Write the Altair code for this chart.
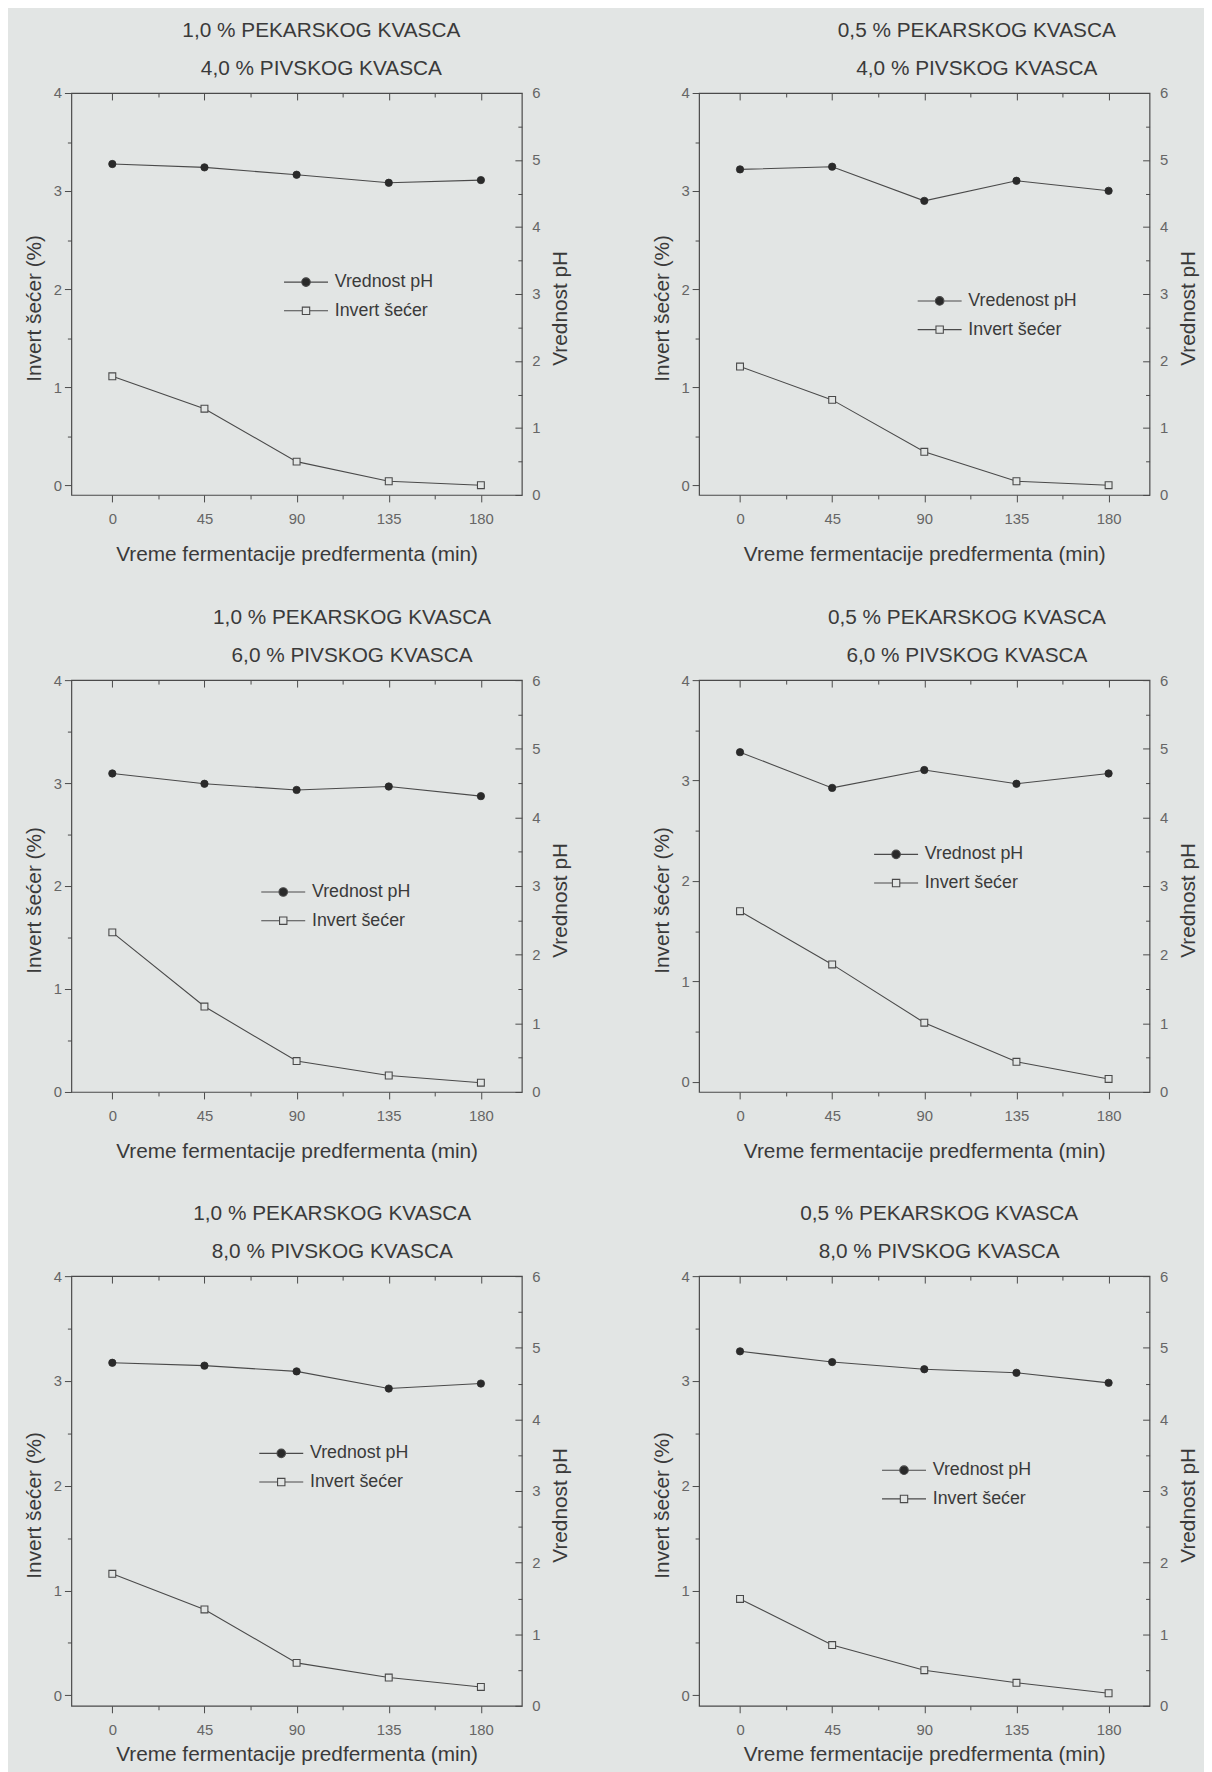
import altair as alt
import pandas as pd

# ---------------- data ----------------
minutes = [0, 45, 90, 135, 180]

title_line1 = [
    "1,0 % PEKARSKOG KVASCA", "0,5 % PEKARSKOG KVASCA",
    "1,0 % PEKARSKOG KVASCA", "0,5 % PEKARSKOG KVASCA",
    "1,0 % PEKARSKOG KVASCA", "0,5 % PEKARSKOG KVASCA",
]
title_line2 = [
    "4,0 % PIVSKOG KVASCA", "4,0 % PIVSKOG KVASCA",
    "6,0 % PIVSKOG KVASCA", "6,0 % PIVSKOG KVASCA",
    "8,0 % PIVSKOG KVASCA", "8,0 % PIVSKOG KVASCA",
]

ph_1 = [4.94, 4.89, 4.78, 4.66, 4.70]
ph_2 = [4.86, 4.90, 4.39, 4.69, 4.54]
ph_3 = [4.64, 4.49, 4.40, 4.45, 4.31]
ph_4 = [4.95, 4.43, 4.69, 4.49, 4.64]
ph_5 = [4.79, 4.75, 4.67, 4.43, 4.50]
ph_6 = [4.95, 4.80, 4.70, 4.65, 4.51]

inv_1 = [1.11, 0.78, 0.24, 0.04, 0.00]
inv_2 = [1.21, 0.87, 0.34, 0.04, 0.00]
inv_3 = [1.55, 0.83, 0.30, 0.16, 0.09]
inv_4 = [1.70, 1.17, 0.59, 0.20, 0.03]
inv_5 = [1.16, 0.82, 0.31, 0.17, 0.08]
inv_6 = [0.92, 0.48, 0.24, 0.12, 0.02]

ph_legend_labels = ["Vrednost pH", "Vredenost pH", "Vrednost pH",
                    "Vrednost pH", "Vrednost pH", "Vrednost pH"]
inv_legend_label = "Invert šećer"

left_axis_min = [-0.1, -0.1, 0.0, -0.1, -0.1, -0.1]

x_title = "Vreme fermentacije predfermenta (min)"
y_left_title = "Invert šećer (%)"
y_right_title = "Vrednost pH"

x_major = [0, 45, 90, 135, 180]
x_minor = [22.5, 67.5, 112.5, 157.5]
yl_major = [0, 1, 2, 3, 4]
yl_minor = [0.5, 1.5, 2.5, 3.5]
yr_major = [0, 1, 2, 3, 4, 5, 6]
yr_minor = [0.5, 1.5, 2.5, 3.5, 4.5, 5.5]

ph_series = [ph_1, ph_2, ph_3, ph_4, ph_5, ph_6]
inv_series = [inv_1, inv_2, inv_3, inv_4, inv_5, inv_6]

# ---------------- style ----------------
BG = "#e2e5e4"
LINE = "#4a4a4a"
DOT = "#2a2a2a"
TEXT = "#3a3a3a"
TICKC = "#666666"
FONT = "Liberation Sans"

legend_pos = [(224, 178), (230, 197), (201, 201), (186, 163), (199, 166), (194, 183)]
title_dx = [25, 53, 56, 43, 36, 15]
row_heights = [406, 416, 434]
x_title_pad = [17, 17, 17, 17, 6, 6]
W = 455

CIRCLE_PATH = ("M-1.85,0H-0.36M0.36,0H1.85"
               "M-0.36,0A0.36,0.36 0 1,0 0.36,0A0.36,0.36 0 1,0 -0.36,0Z")
SQUARE_PATH = "M-1.85,0H-0.31M0.31,0H1.85M-0.31,-0.31H0.31V0.31H-0.31Z"

LAB = dict(labelFontSize=15, labelColor=TICKC, labelFont=FONT, labelOverlap=False)
TTL = dict(titleFontSize=21, titleFont=FONT, titleFontWeight="normal", titleColor=TEXT)
COMMON = dict(domain=False, grid=False, tickColor=LINE, tickWidth=1)


def panel(i, height):
    df = pd.DataFrame({"min": minutes, "ph": ph_series[i], "inv": inv_series[i]})
    xscale = alt.Scale(domain=[-20, 200], nice=False, zero=False)
    yl = alt.Scale(domain=[left_axis_min[i], 4], nice=False, zero=False)
    yr = alt.Scale(domain=[0, 6], nice=False, zero=False)
    ty = height / 2 + 14

    ax_bottom = alt.Axis(orient="bottom", values=x_major, tickSize=7, format="d",
                         labelPadding=10, title=x_title, titlePadding=x_title_pad[i],
                         **LAB, **TTL, **COMMON)
    ax_bottom_minor = alt.Axis(orient="bottom", values=x_minor, tickSize=4,
                               labels=False, title=None, **COMMON)
    ax_top = alt.Axis(orient="top", values=x_major, tickSize=7, offset=-7,
                      labels=False, title=None, **COMMON)
    ax_top_minor = alt.Axis(orient="top", values=x_minor, tickSize=4, offset=-4,
                            labels=False, title=None, **COMMON)
    ax_left = alt.Axis(orient="left", values=yl_major, tickSize=7, format="d",
                       labelPadding=3, title=y_left_title, titlePadding=9, titleY=ty,
                       **LAB, **TTL, **COMMON)
    ax_left_minor = alt.Axis(orient="left", values=yl_minor, tickSize=4,
                             labels=False, title=None, **COMMON)
    ax_right = alt.Axis(orient="right", values=yr_major, tickSize=7, offset=-7, format="d",
                        labelPadding=10, title=y_right_title, titlePadding=10, titleY=ty,
                        titleAngle=270, titleBaseline="top", **LAB, **TTL, **COMMON)
    ax_right_minor = alt.Axis(orient="right", values=yr_minor, tickSize=4, offset=-4,
                              labels=False, title=None, **COMMON)

    def X(axis):
        return alt.X("min:Q", scale=xscale, axis=axis)

    inv_line = alt.Chart(df).mark_line(color=LINE, strokeWidth=1.1).encode(
        x=X(ax_bottom), y=alt.Y("inv:Q", scale=yl, axis=ax_left))
    left_minor = alt.Chart(df).mark_line(opacity=0).encode(
        x=X(ax_bottom_minor), y=alt.Y("inv:Q", scale=yl, axis=ax_left_minor))
    inv_pts = alt.Chart(df).mark_square(
        size=48, fill=BG, stroke=LINE, strokeWidth=1.1, opacity=1).encode(
        x=X(None), y=alt.Y("inv:Q", scale=yl, axis=None))
    ph_line = alt.Chart(df).mark_line(color=LINE, strokeWidth=1.1).encode(
        x=X(ax_top), y=alt.Y("ph:Q", scale=yr, axis=ax_right))
    right_minor = alt.Chart(df).mark_line(opacity=0).encode(
        x=X(ax_top_minor), y=alt.Y("ph:Q", scale=yr, axis=ax_right_minor))
    ph_pts = alt.Chart(df).mark_circle(
        size=55, fill=DOT, stroke=DOT, strokeWidth=0.8, opacity=1).encode(
        x=X(None), y=alt.Y("ph:Q", scale=yr, axis=None))

    names = [ph_legend_labels[i], inv_legend_label]
    lx, ly = legend_pos[i]
    leg = alt.Legend(
        orient="none", legendX=lx, legendY=ly, title=None, padding=0,
        symbolSize=576, symbolStrokeWidth=1.1, symbolOpacity=1,
        labelFontSize=18, labelFont=FONT, labelColor=TEXT, labelOffset=16,
        rowPadding=7, labelLimit=300)
    leg_df = pd.DataFrame({"series": names})
    legend_layer = alt.Chart(leg_df).mark_point(filled=True, opacity=0).encode(
        shape=alt.Shape("series:N", scale=alt.Scale(domain=names, range=[CIRCLE_PATH, SQUARE_PATH]), legend=leg),
        fill=alt.Fill("series:N", scale=alt.Scale(domain=names, range=[DOT, BG]), legend=leg),
        stroke=alt.Stroke("series:N", scale=alt.Scale(domain=names, range=[LINE, LINE]), legend=leg),
    )

    ch = alt.layer(inv_line, left_minor, inv_pts, ph_line, right_minor, ph_pts, legend_layer
                   ).resolve_scale(y="independent").resolve_axis(x="independent").properties(
        width=W, height=height,
        title=alt.TitleParams(
            text=[title_line1[i], title_line2[i]], fontSize=21, font=FONT,
            fontWeight="normal", color=TEXT, anchor="middle", frame="group",
            dx=title_dx[i], offset=7, lineHeight=39))
    return ch


def indep(c):
    return c.resolve_scale(shape="independent", fill="independent", stroke="independent")


row1 = indep(alt.hconcat(panel(0, row_heights[0]), panel(1, row_heights[0]), spacing=80))
row2 = indep(alt.hconcat(panel(2, row_heights[1]), panel(3, row_heights[1]), spacing=80))
row3 = indep(alt.hconcat(panel(4, row_heights[2]), panel(5, row_heights[2]), spacing=80))

top = indep(alt.vconcat(row1, row2, spacing=41))
chart = indep(alt.vconcat(top, row3, spacing=40)).properties(
    background=BG, padding={"left": 15, "top": 2, "right": 5, "bottom": 0}
).configure_view(stroke=LINE, strokeWidth=1.2)

chart.save("out.html", embed_options={"renderer": "svg", "actions": False})
